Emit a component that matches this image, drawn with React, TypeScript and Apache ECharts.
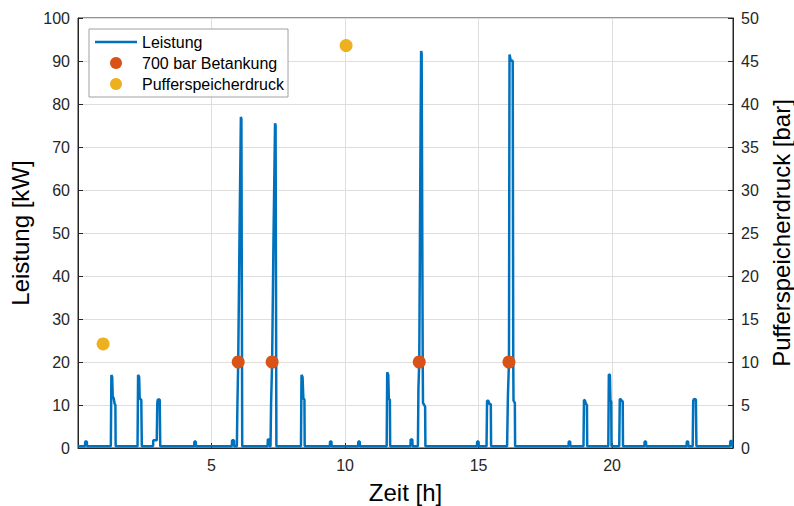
import React, { useEffect, useRef } from "react";
import * as echarts from "echarts";

// Electrical power over the day: [hour, kW]
const leistungVerlauf: [number, number][] = [
  [0.0, 0.4],
  [0.26, 0.4], [0.27, 1.5], [0.33, 1.5], [0.34, 0.4],
  [1.23, 0.4], [1.25, 17], [1.28, 16.5], [1.3, 12], [1.34, 11.5], [1.37, 10.3], [1.4, 10], [1.41, 0.4],
  [2.23, 0.4], [2.25, 17], [2.29, 16.5], [2.31, 11.5], [2.37, 11.2], [2.39, 0.4],
  [2.81, 0.4], [2.82, 1.8], [2.95, 1.8], [2.97, 10.5], [2.99, 11.3], [3.06, 11.3], [3.08, 0.4],
  [4.35, 0.4], [4.36, 1.5], [4.41, 1.5], [4.42, 0.4],
  [5.76, 0.4], [5.77, 1.8], [5.84, 1.8], [5.85, 0.4],
  [5.95, 0.4], [5.97, 10], [6.0, 20], [6.05, 50], [6.1, 77], [6.12, 76.5], [6.15, 0.4],
  [7.1, 0.4], [7.11, 2], [7.17, 2], [7.18, 0.4],
  [7.21, 0.4], [7.23, 10], [7.27, 20], [7.32, 48], [7.38, 75.5], [7.4, 75], [7.43, 0.4],
  [8.35, 0.4], [8.37, 17], [8.41, 16.5], [8.44, 11.5], [8.48, 11.3], [8.49, 0.4],
  [9.43, 0.4], [9.44, 1.5], [9.49, 1.5], [9.5, 0.4],
  [10.49, 0.4], [10.5, 1.5], [10.55, 1.5], [10.56, 0.4],
  [11.56, 0.4], [11.58, 17.6], [11.62, 17], [11.64, 11.5], [11.68, 11.2], [11.69, 0.4],
  [12.45, 0.4], [12.46, 2], [12.52, 2], [12.53, 0.4],
  [12.73, 0.4], [12.75, 14], [12.78, 20], [12.83, 75], [12.85, 92.3], [12.87, 91.8], [12.91, 20], [12.92, 10.5], [13.0, 9.6], [13.01, 0.4],
  [14.94, 0.4], [14.95, 1.5], [15.0, 1.5], [15.01, 0.4],
  [15.3, 0.4], [15.32, 11], [15.37, 11], [15.4, 10.3], [15.46, 10.2], [15.47, 0.4],
  [16.07, 0.4], [16.1, 12], [16.14, 20], [16.16, 91.5], [16.18, 91], [16.2, 90.2], [16.28, 90], [16.3, 20], [16.31, 11], [16.36, 10.5], [16.37, 0.4],
  [18.37, 0.4], [18.38, 1.5], [18.43, 1.5], [18.44, 0.4],
  [18.93, 0.4], [18.95, 11.2], [18.99, 11], [19.02, 10.3], [19.06, 10], [19.07, 0.4],
  [19.86, 0.4], [19.88, 17.1], [19.92, 17], [19.94, 11], [19.97, 10.8], [19.98, 0.4],
  [20.27, 0.4], [20.29, 11.4], [20.33, 11.3], [20.36, 11], [20.4, 10.8], [20.41, 0.4],
  [21.21, 0.4], [21.22, 1.5], [21.27, 1.5], [21.28, 0.4],
  [22.79, 0.4], [22.8, 1.5], [22.85, 1.5], [22.86, 0.4],
  [23.02, 0.4], [23.04, 11], [23.07, 11.4], [23.14, 11.3], [23.16, 0.4],
  [24.42, 0.4], [24.43, 1.6], [24.49, 1.6], [24.5, 0.4], [24.53, 0.4],
];

// 700 bar refuelling events
const betankungZeit = [6.0, 7.27, 12.78, 16.14];
const betankungLeistung = [20, 20, 20, 20];

// Buffer storage pressure readings
const pufferZeit = [0.94, 10.04];
const pufferDruck = [12.1, 46.8];

const xTicks = { min: 0, max: 24.53, interval: 5 };
const yLeftTicks = { min: 0, max: 100, interval: 10 };
const yRightTicks = { min: 0, max: 50, interval: 5 };

const FONT = "'Liberation Sans', Arial, Helvetica, sans-serif";
const AXIS_COLOR = "#262626";
const GRID_COLOR = "#dedede";
const BLUE = "#0072BD";

export default function App() {
  const ref = useRef<HTMLDivElement>(null);

  useEffect(() => {
    if (!ref.current) return;
    const chart = echarts.init(ref.current, null, { renderer: "svg" });

    const axisCommon = {
      axisLine: { show: true, lineStyle: { color: AXIS_COLOR, width: 1 } },
      axisTick: { show: true, inside: true, length: 5, lineStyle: { color: AXIS_COLOR } },
      axisLabel: { color: AXIS_COLOR, fontSize: 16, fontFamily: FONT },
      nameTextStyle: { color: "#000", fontSize: 24, fontFamily: FONT },
    };

    chart.setOption({
      animation: false,
      backgroundColor: "#fff",
      textStyle: { fontFamily: FONT },
      grid: {
        left: 78,
        right: 61,
        top: 18,
        bottom: 58,
        outerBoundsMode: "none",
        show: true,
        borderColor: AXIS_COLOR,
        borderWidth: 1,
        backgroundColor: "transparent",
      },
      legend: {
        orient: "vertical",
        left: 89,
        top: 29,
        padding: [5, 4, 5, 6],
        itemWidth: 42,
        itemHeight: 12,
        itemGap: 5,
        backgroundColor: "#fff",
        borderColor: "#a0a0a0",
        borderWidth: 1,
        borderRadius: 0,
        textStyle: { color: "#000", fontSize: 16, fontFamily: FONT },
        data: [
          { name: "Leistung", icon: "path://M0,0 L42,0 L42,2.5 L0,2.5 Z" },
          { name: "700 bar Betankung", icon: "circle" },
          { name: "Pufferspeicherdruck", icon: "circle" },
        ],
      },
      xAxis: {
        type: "value",
        ...xTicks,
        ...axisCommon,
        axisLabel: { ...axisCommon.axisLabel, margin: 9, showMinLabel: false, showMaxLabel: false },
        splitLine: { show: true, lineStyle: { color: GRID_COLOR, width: 1 } },
        name: "Zeit [h]",
        nameLocation: "middle",
        nameGap: 32,
      },
      yAxis: [
        {
          type: "value",
          position: "left",
          ...yLeftTicks,
          ...axisCommon,
          axisLabel: { ...axisCommon.axisLabel, margin: 8 },
          splitLine: { show: true, lineStyle: { color: GRID_COLOR, width: 1 } },
          name: "Leistung [kW]",
          nameLocation: "middle",
          nameRotate: 90,
          nameGap: 38,
        },
        {
          type: "value",
          position: "right",
          ...yRightTicks,
          ...axisCommon,
          axisLabel: { ...axisCommon.axisLabel, margin: 8 },
          splitLine: { show: false },
          name: "Pufferspeicherdruck [bar]",
          nameLocation: "middle",
          nameRotate: 90,
          nameGap: 31,
        },
      ],
      series: [
        {
          name: "Leistung",
          type: "line",
          yAxisIndex: 0,
          data: leistungVerlauf,
          symbol: "none",
          showSymbol: false,
          lineStyle: { color: BLUE, width: 2.5 },
          itemStyle: { color: BLUE },
          z: 2,
        },
        {
          name: "700 bar Betankung",
          type: "scatter",
          yAxisIndex: 0,
          data: betankungZeit.map((t, i) => [t, betankungLeistung[i]]),
          symbol: "circle",
          symbolSize: 13,
          itemStyle: { color: "#D95319", opacity: 1 },
          z: 3,
        },
        {
          name: "Pufferspeicherdruck",
          type: "scatter",
          yAxisIndex: 1,
          data: pufferZeit.map((t, i) => [t, pufferDruck[i]]),
          symbol: "circle",
          symbolSize: 13,
          itemStyle: { color: "#EDB120", opacity: 1 },
          z: 3,
        },
      ],
    });

    return () => chart.dispose();
  }, []);

  return (
    <div
      ref={ref}
      style={{ position: "fixed", left: 0, top: 0, width: 794, height: 506 }}
    />
  );
}
